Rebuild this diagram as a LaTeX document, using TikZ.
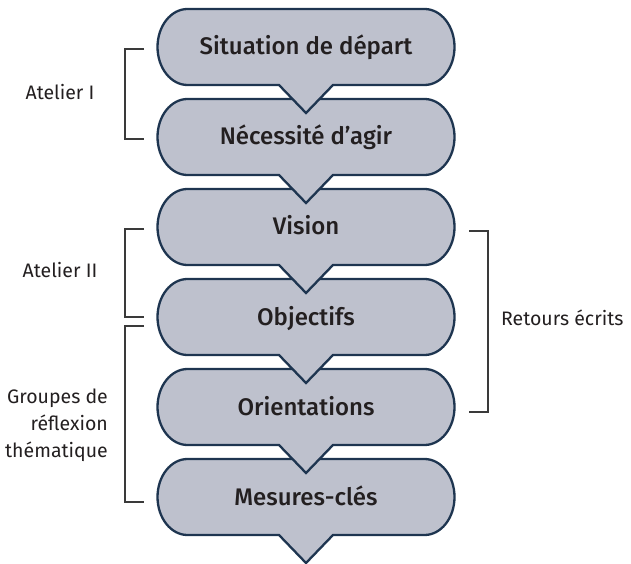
\documentclass[tikz,border=0pt]{standalone}
\usepackage{fontspec}
\setmainfont{Fira Sans}
\newfontfamily\medfont{Fira Sans}[UprightFont={* Medium}]
\definecolor{boxfill}{HTML}{BEC1CD}
\definecolor{boxline}{HTML}{1E3550}
\definecolor{txt}{HTML}{231F20}
\definecolor{brk}{HTML}{3A3A3A}
\newcommand{\stepshape}[1]{%
  \path[stepbox] (279,#1-38) -- (187.5,#1-38)
    arc[start angle=270, end angle=90, x radius=30pt, y radius=38pt]
    -- (424.5,#1+38)
    arc[start angle=90, end angle=-90, x radius=30pt, y radius=38pt]
    -- (333,#1-38) -- (306,#1-66) -- cycle;}
\begin{document}
\begin{tikzpicture}[x=1pt,y=1pt,
  stepbox/.style={draw=boxline, fill=boxfill, line width=2.3pt, line join=miter},
  boxtext/.style={font=\medfont\fontsize{24}{29}\selectfont, text=txt, anchor=base, inner sep=0pt},
  lbl/.style={font=\fontsize{19.5}{27}\selectfont, text=txt, inner sep=0pt},
  bracket/.style={draw=brk, line width=1.2pt}]
\useasboundingbox (0,0) rectangle (631,563);
% boxes, drawn bottom to top so each pointer lies over the next box
\stepshape{66}
\stepshape{156}
\stepshape{246}
\stepshape{336}
\stepshape{426}
\stepshape{516}
\node[boxtext] (b1) at (306,508) {Situation de départ};
\node[boxtext] (b2) at (306,418) {Nécessité d’agir};
\node[boxtext] (b3) at (306,328) {Vision};
\node[boxtext] (b4) at (306,238) {Objectifs};
\node[boxtext] (b5) at (306,148) {Orientations};
\node[boxtext] (b6) at (306,58) {Mesures-clés};
% bracket coordinates
\coordinate (a1t) at (144,514); \coordinate (a1b) at (144,424);
\coordinate (a2t) at (144,334); \coordinate (a2b) at (144,246);
\coordinate (gt) at (144,237);  \coordinate (gb) at (144,61);
\coordinate (rt) at (469,332);  \coordinate (rb) at (469,151);
\draw[bracket] (a1t) -- ++(-19,0) |- (a1b);
\draw[bracket] (a2t) -- ++(-19,0) |- (a2b);
\draw[bracket] (gt) -- ++(-19,0) |- (gb);
\draw[bracket] (rt) -- ++(19,0) |- (rb);
% labels
\node[lbl, anchor=base] (l1) at (60,463) {Atelier I};
\node[lbl, anchor=base] (l2) at (60,286) {Atelier II};
\node[lbl, anchor=east, align=right] (l3) at (108,138) {Groupes de\\réflexion\\thématique};
\node[lbl, anchor=base west] (l4) at (501,238) {Retours écrits};
\end{tikzpicture}
\end{document}
